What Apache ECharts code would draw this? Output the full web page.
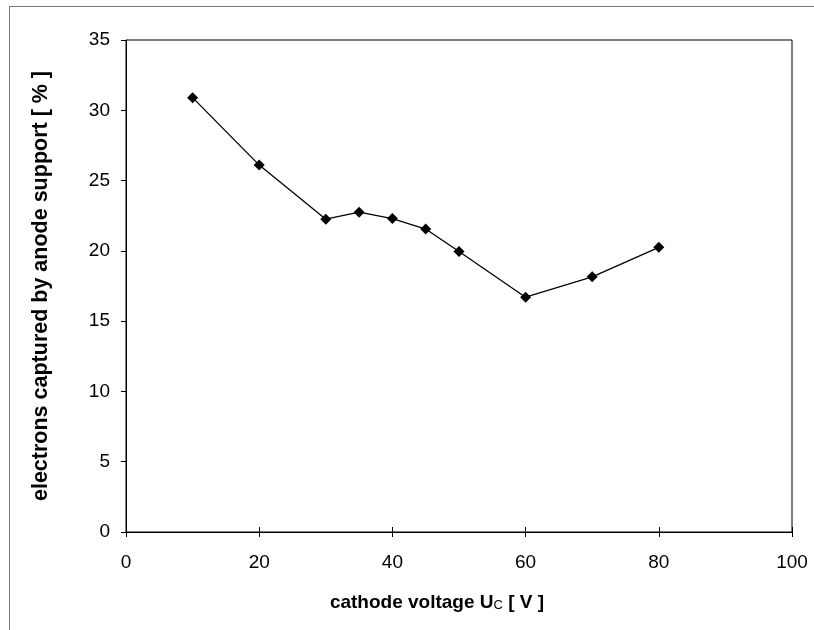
<!DOCTYPE html>
<html>
<head>
<meta charset="utf-8">
<script src="https://cdn.jsdelivr.net/npm/echarts@6/dist/echarts.min.js"></script>
<style>
  html, body { margin: 0; padding: 0; background: #fff; }
  #frame { position: absolute; left: 9px; top: 6px; width: 900px; height: 700px; border: 1px solid #777; box-sizing: border-box; }
  #main { position: absolute; left: 0; top: 0; width: 814px; height: 630px; }
</style>
</head>
<body>
<div id="frame"></div>
<div id="main"></div>
<script>
// cathode voltage [V]
var voltage = [10, 20, 30, 35, 40, 45, 50, 60, 70, 80];
// electrons captured by anode support [%]
var captured = [30.9, 26.1, 22.25, 22.75, 22.3, 21.55, 19.95, 16.7, 18.15, 20.25];
var xTicks = [0, 20, 40, 60, 80, 100];
var yTicks = [0, 5, 10, 15, 20, 25, 30, 35];

var font = 'Liberation Sans, Arial, sans-serif';
var myChart = echarts.init(document.getElementById('main'));

var option = {
  animation: false,
  backgroundColor: 'transparent',
  grid: {
    left: 126, right: 22, top: 40, bottom: 98,
    show: true, borderColor: '#000', borderWidth: 1
  },
  xAxis: [
    {
      type: 'value',
      min: xTicks[0], max: xTicks[xTicks.length - 1], interval: 20,
      name: 'cathode voltage U{sub|C} [ V ]',
      nameLocation: 'middle', nameGap: 61,
      nameTextStyle: {
        fontFamily: font, fontWeight: 'bold', fontSize: 19, color: '#000',
        padding: [0, 44, 0, 0],
        rich: { sub: { fontFamily: font, fontWeight: 'normal', fontSize: 13, color: '#000', verticalAlign: 'bottom', padding: [6, 0, 0, 0] } }
      },
      axisLine: { lineStyle: { color: '#000', width: 1 } },
      axisTick: { show: true, length: 5, lineStyle: { color: '#000' } },
      axisLabel: { fontFamily: font, fontSize: 19, color: '#000', margin: 21 },
      splitLine: { show: false }
    },
    {
      type: 'value', position: 'bottom',
      min: xTicks[0], max: xTicks[xTicks.length - 1], interval: 20,
      axisLine: { show: false },
      axisTick: { show: true, inside: true, length: 5, lineStyle: { color: '#000' } },
      axisLabel: { show: false },
      splitLine: { show: false }
    }
  ],
  yAxis: {
    type: 'value',
    min: yTicks[0], max: yTicks[yTicks.length - 1], interval: 5,
    name: 'electrons captured by anode support [ % ]',
    nameLocation: 'middle', nameGap: 74,
    nameTextStyle: { fontFamily: font, fontWeight: 'bold', fontSize: 21.5, color: '#000' },
    axisLine: { show: true, lineStyle: { color: '#000', width: 1 } },
    axisTick: { show: true, length: 5, lineStyle: { color: '#000' } },
    axisLabel: { fontFamily: font, fontSize: 19, color: '#000', margin: 16 },
    splitLine: { show: false }
  },
  series: [{
    type: 'line',
    xAxisIndex: 0,
    data: voltage.map(function (v, i) { return [v, captured[i]]; }),
    symbol: 'diamond',
    symbolSize: 11,
    itemStyle: { color: '#000' },
    lineStyle: { color: '#000', width: 1.3 }
  }]
};

myChart.setOption(option);
</script>
</body>
</html>
